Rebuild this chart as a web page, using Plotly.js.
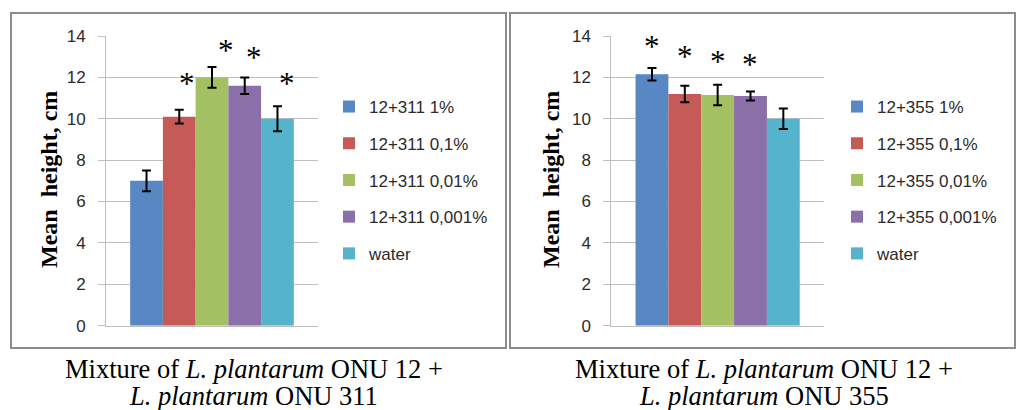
<!DOCTYPE html>
<html>
<head>
<meta charset="utf-8">
<script src="https://cdn.plot.ly/plotly-3.0.1.min.js"></script>
<style>html,body{margin:0;padding:0;background:#fff}#chart{width:1016px;height:410px}</style>
</head>
<body>
<div id="chart"></div>
<script>
// ---- data ----
const categories = [0];
const leftNames = ['12+311 1%', '12+311 0,1%', '12+311 0,01%', '12+311 0,001%', 'water'];
const leftMeans = [7.0, 10.1, 12.0, 11.6, 10.0];
const leftErrors = [0.5, 0.33, 0.5, 0.4, 0.6];
const rightNames = ['12+355 1%', '12+355 0,1%', '12+355 0,01%', '12+355 0,001%', 'water'];
const rightMeans = [12.15, 11.2, 11.15, 11.1, 10.0];
const rightErrors = [0.3, 0.4, 0.5, 0.22, 0.5];
const leftStarBars = [1, 2, 3, 4];
const leftStarY = [12.0, 13.6, 13.25, 12.0];
const rightStarBars = [0, 1, 2, 3];
const rightStarY = [13.8, 13.3, 13.05, 12.9];
const yTickVals = [0, 2, 4, 6, 8, 10, 12, 14];
const yTitle = 'Mean\u00a0 height, cm';
const captionLeft = ['Mixture of <i>L. plantarum</i> ONU 12 +', '<i>L. plantarum</i> ONU 311'];
const captionRight = ['Mixture of <i>L. plantarum</i> ONU 12 +', '<i>L. plantarum</i> ONU 355'];

// ---- styles ----
const colors = ['#5888c4', '#c65a56', '#a3c163', '#8a6fa8', '#55b3cc'];
const leftStarShift = [0.23, 0.42, 0.28, 0.29];
const rightStarShift = [0, 0, 0, 0];
const W = 1016, H = 410;
const px = v => v / W, py = v => 1 - v / H;
const bargap = 0.228;
const barW = (1 - bargap) / 5;
const barCenter = i => -(1 - bargap) / 2 + (i + 0.5) * barW;
const grid = '#bfbfbf';
const starFont = {family: 'Liberation Serif, Times New Roman, serif', size: 31, color: '#000000'};

const traces = [];
function addSeries(names, means, errs, xa, ya, legend) {
  names.forEach((n, i) => {
    traces.push({
      type: 'bar', x: categories, y: [means[i]], name: n,
      xaxis: xa, yaxis: ya, legend: legend, legendgroup: legend + i,
      marker: {color: colors[i]},
      error_y: {type: 'data', array: [errs[i]], visible: true, color: '#000', thickness: 2, width: 4.5},
      hoverinfo: 'skip'
    });
  });
}
addSeries(leftNames, leftMeans, leftErrors, 'x', 'y', 'legend');
addSeries(rightNames, rightMeans, rightErrors, 'x2', 'y2', 'legend2');

const annotations = [];
leftStarBars.forEach((b, k) => annotations.push({
  xref: 'x', yref: 'y', x: barCenter(b) + leftStarShift[k] * barW, y: leftStarY[k],
  text: '*', showarrow: false, font: starFont,
  xanchor: 'center', yanchor: 'middle', yshift: -6
}));
rightStarBars.forEach((b, k) => annotations.push({
  xref: 'x2', yref: 'y2', x: barCenter(b) + rightStarShift[k] * barW, y: rightStarY[k],
  text: '*', showarrow: false, font: starFont,
  xanchor: 'center', yanchor: 'middle', yshift: -6
}));
[[49, yTitle], [551, yTitle]].forEach(([x, t]) => annotations.push({
  xref: 'paper', yref: 'paper', x: px(x), y: py(180), text: '<b>' + t + '</b>', textangle: -90,
  showarrow: false, xanchor: 'center', yanchor: 'middle',
  font: {family: 'Liberation Serif, Times New Roman, serif', size: 24, color: '#000'}
}));
[[253.5, captionLeft], [763.5, captionRight]].forEach(([x, lines]) => {
  lines.forEach((t, j) => annotations.push({
    xref: 'paper', yref: 'paper', x: px(x), y: py(369 + j * 27), text: t,
    showarrow: false, xanchor: 'center', yanchor: 'middle',
    font: {family: 'Liberation Serif, Times New Roman, serif', size: 26.5, color: '#000'}
  }));
});

const shapes = [
  {type: 'rect', xref: 'paper', yref: 'paper', x0: px(11), x1: px(506), y0: py(348), y1: py(13), line: {color: '#8c8c8c', width: 2}},
  {type: 'rect', xref: 'paper', yref: 'paper', x0: px(510), x1: px(1015), y0: py(348), y1: py(13), line: {color: '#8c8c8c', width: 2}}
];

function yAxis(anchor) {
  return {
    anchor: anchor, domain: [py(325.7), py(36)], range: [0, 14], tickvals: yTickVals,
    ticks: 'outside', ticklen: 7, tickcolor: grid, tickwidth: 1,
    showline: true, linecolor: grid, linewidth: 1, showgrid: true, gridcolor: grid, gridwidth: 1,
    zeroline: false, ticklabelstandoff: 9,
    tickfont: {family: 'Liberation Sans, Arial, sans-serif', size: 17, color: '#2b2b2b'}, fixedrange: true
  };
}
function xAxis(anchor, d0, d1) {
  return {
    anchor: anchor, domain: [px(d0), px(d1)], range: [-0.5, 0.5], type: 'linear',
    showticklabels: false, ticks: '', showgrid: false, zeroline: false,
    showline: true, linecolor: grid, linewidth: 1, fixedrange: true
  };
}
function legend(x) {
  return {
    x: px(x), xanchor: 'left', y: py(89), yanchor: 'top', traceorder: 'grouped', tracegroupgap: 11.6,
    bgcolor: 'rgba(0,0,0,0)', borderwidth: 0,
    font: {family: 'Liberation Sans, Arial, sans-serif', size: 17, color: '#2b2b2b'}
  };
}

const layout = {
  width: W, height: H, margin: {l: 0, r: 0, t: 0, b: 0},
  paper_bgcolor: '#fff', plot_bgcolor: 'rgba(0,0,0,0)',
  barmode: 'group', bargap: bargap, bargroupgap: 0,
  xaxis: xAxis('y', 106, 318), yaxis: yAxis('x'),
  xaxis2: xAxis('y2', 611.3, 824), yaxis2: yAxis('x2'),
  legend: legend(329), legend2: legend(837),
  annotations: annotations, shapes: shapes, showlegend: true
};
Plotly.newPlot('chart', traces, layout, {displayModeBar: false, staticPlot: true});
</script>
</body>
</html>
